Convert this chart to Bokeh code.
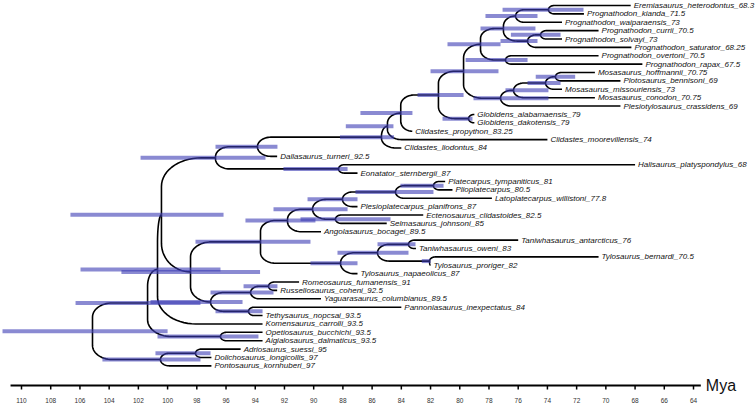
import numpy as np
from bokeh.plotting import figure
from bokeh.models import Range1d, ColumnDataSource
from bokeh.embed import file_html
from bokeh.resources import INLINE
from bokeh.core.properties import value

# ---------------- data ----------------
tip_names = [
    "Eremiasaurus_heterodontus_68.3", "Prognathodon_kianda_71.5", "Prognathodon_waiparaensis_73",
    "Prognathodon_currii_70.5", "Prognathodon_solvayi_73", "Prognathodon_saturator_68.25",
    "Prognathodon_overtoni_70.5", "Prognathodon_rapax_67.5", "Mosasaurus_hoffmannii_70.75",
    "Plotosaurus_bennisoni_69", "Mosasaurus_missouriensis_73", "Mosasaurus_conodon_70.75",
    "Plesiotylosaurus_crassidens_69", "Globidens_alabamaensis_79", "Globidens_dakotensis_79",
    "Clidastes_propython_83.25", "Clidastes_moorevillensis_74", "Clidastes_liodontus_84",
    "Dallasaurus_turneri_92.5", "Halisaurus_platyspondylus_68", "Eonatator_sternbergii_87",
    "Platecarpus_tympaniticus_81", "Plioplatecarpus_80.5", "Latoplatecarpus_willistoni_77.8",
    "Plesioplatecarpus_planifrons_87", "Ectenosaurus_clidastoides_82.5", "Selmasaurus_johnsoni_85",
    "Angolasaurus_bocagei_89.5", "Taniwhasaurus_antarcticus_76", "Taniwhasaurus_oweni_83",
    "Tylosaurus_bernardi_70.5", "Tylosaurus_proriger_82", "Tylosaurus_napaeolicus_87",
    "Romeosaurus_fumanensis_91", "Russellosaurus_coheni_92.5", "Yaguarasaurus_columbianus_89.5",
    "Pannoniasaurus_inexpectatus_84", "Tethysaurus_nopcsai_93.5", "Komensaurus_carrolli_93.5",
    "Opetiosaurus_bucchichi_93.5", "Aigialosaurus_dalmaticus_93.5", "Adriosaurus_suessi_95",
    "Dolichosaurus_longicollis_97", "Pontosaurus_kornhuberi_97",
]
tip_ages = [68.3, 71.5, 73, 70.5, 73, 68.25, 70.5, 67.5, 70.75, 69, 73, 70.75, 69, 79, 79,
            83.25, 74, 84, 92.5, 68, 87, 81, 80.5, 77.8, 87, 82.5, 85, 89.5, 76, 83, 70.5, 82, 87,
            91, 92.5, 89.5, 84, 93.5, 93.5, 93.5, 93.5, 95, 97, 97]

node_ids = ["A", "B", "C", "D", "E", "F", "G", "H", "I", "J", "K", "L", "M", "N",
            "P1", "P2", "P3", "Q", "S", "R",
            "PPa", "PPb", "PPc", "PPd", "PPe", "PPf",
            "TYa", "TYb", "TYc", "TYd", "RS1",
            "YGa", "YGb", "PT", "YGc", "RU", "T", "AA", "Z1", "Y", "X1", "X2", "Root"]
node_child1 = ["Eremiasaurus_heterodontus_68.3", "A", "Prognathodon_currii_70.5", "C", "B",
               "Prognathodon_overtoni_70.5", "E", "Mosasaurus_hoffmannii_70.75", "H", "I", "J", "G",
               "Globidens_alabamaensis_79", "L",
               "N", "P1", "P2", "P3", "Halisaurus_platyspondylus_68", "Q",
               "Platecarpus_tympaniticus_81", "PPa", "PPb", "Ectenosaurus_clidastoides_82.5", "PPc", "PPe",
               "Taniwhasaurus_antarcticus_76", "Tylosaurus_bernardi_70.5", "TYa", "TYc", "PPf",
               "Romeosaurus_fumanensis_91", "YGa", "Pannoniasaurus_inexpectatus_84", "YGb", "RS1", "R", "T",
               "Opetiosaurus_bucchichi_93.5", "AA", "Adriosaurus_suessi_95", "X1", "Y"]
node_child2 = ["Prognathodon_kianda_71.5", "Prognathodon_waiparaensis_73", "Prognathodon_solvayi_73",
               "Prognathodon_saturator_68.25", "D", "Prognathodon_rapax_67.5", "F",
               "Plotosaurus_bennisoni_69", "Mosasaurus_missouriensis_73", "Mosasaurus_conodon_70.75",
               "Plesiotylosaurus_crassidens_69", "K", "Globidens_dakotensis_79", "M",
               "Clidastes_propython_83.25", "Clidastes_moorevillensis_74", "Clidastes_liodontus_84",
               "Dallasaurus_turneri_92.5", "Eonatator_sternbergii_87", "S",
               "Plioplatecarpus_80.5", "Latoplatecarpus_willistoni_77.8", "Plesioplatecarpus_planifrons_87",
               "Selmasaurus_johnsoni_85", "PPd", "Angolasaurus_bocagei_89.5",
               "Taniwhasaurus_oweni_83", "Tylosaurus_proriger_82", "TYb", "Tylosaurus_napaeolicus_87", "TYd",
               "Russellosaurus_coheni_92.5", "Yaguarasaurus_columbianus_89.5", "Tethysaurus_nopcsai_93.5",
               "PT", "YGc", "RU", "Komensaurus_carrolli_93.5",
               "Aigialosaurus_dalmaticus_93.5", "Z1", "Dolichosaurus_longicollis_97", "Pontosaurus_kornhuberi_97",
               "X2"]
node_ages = [73.93, 76.18, 74.47, 75.36, 77.01, 76.87, 78.58, 73.45, 74.13, 76.32, 77.21, 79.74, 79.4, 81.46,
             84.04, 84.95, 85.36, 93.85, 88.30, 96.72,
             81.8, 84.4, 88.03, 88.51, 90.08, 91.79,
             83.51, 82.07, 85.63, 88.16, 93.64,
             93.09, 94.32, 94.46, 97.06, 98.43, 100.42, 100.69, 96.38, 101.37, 98.09, 100.49, 105.14]
hpd_young = [71.53, 74.68, 73.1, 74.68, 74.82, 75.36, 77.21, 72.1, 73.1, 73.93, 73.93, 77.35, 79.13, 79.74,
             83.24, 84.54, 84.5, 92.48, 87.68, 93.3,
             81.11, 81.8, 87.0, 84.74, 87.68, 89.88,
             83.03, 82.0, 83.51, 87.0, 90.22,
             92.48, 92.75, 93.5, 94.87, 93.67, 96.17, 96.38, 93.78, 97.75, 97.06, 97.75, 100.0]
hpd_old = [77.07, 78.24, 76.5, 77.21, 78.58, 79.6, 80.84, 74.8, 75.36, 76.87, 79.06, 82.0, 81.18, 82.89,
           86.8, 87.8, 88.2, 96.72, 92.07, 101.85,
           84.06, 87.14, 90.42, 90.9, 92.75, 94.67,
           85.63, 82.6, 88.37, 90.22, 98.09,
           94.8, 97.06, 96.72, 101.17, 103.16, 106.65, 105.96, 100.69, 106.3, 100.83, 104.46, 111.3]

axis_ticks = list(range(110, 63, -2))
axis_title = "Mya"

# ---------------- layout ----------------
W, H = 756, 405
X0, X1v = 111.4375, 59.688
Ytop, Ybot = -0.597, 47.733
SX = W / (X0 - X1v)
SY = H / (Ybot - Ytop)

age = {n: a for n, a in zip(tip_names, tip_ages)}
for n, a in zip(node_ids, node_ages):
    age[n] = a
kids = {n: (c1, c2) for n, c1, c2 in zip(node_ids, node_child1, node_child2)}
ypos = {n: float(i) for i, n in enumerate(tip_names)}

def gety(n):
    if n not in ypos:
        c1, c2 = kids[n]
        ypos[n] = (gety(c1) + gety(c2)) / 2.0
    return ypos[n]

for n in node_ids:
    gety(n)

xs, ys = [], []
t = np.linspace(0, np.pi / 2, 16)
for n in node_ids:
    for c in kids[n]:
        px, py = age[n], ypos[n]
        cx, cy = age[c], ypos[c]
        dy_px = (cy - py) * SY
        dx_px = (px - cx) * SX
        sgn = 1.0 if dy_px > 0 else -1.0
        ady = abs(dy_px)
        ry = min(ady, max(10.0, 0.5 * ady))
        rx = max(min(dx_px, 1.4 * ry), 0.0)
        ry_d = ry / SY
        rx_d = rx / SX
        ccx = px - rx_d
        ccy = cy - sgn * ry_d
        ex = ccx + rx_d * np.cos(t)
        ey = ccy + sgn * ry_d * np.sin(t)
        xs.append([px] + list(ex) + [cx])
        ys.append([py] + list(ey) + [cy])

p = figure(width=W, height=H, x_range=Range1d(X0, X1v), y_range=Range1d(Ybot, Ytop),
           toolbar_location=None, output_backend="svg", min_border=0)
p.axis.visible = False
p.grid.visible = False
p.outline_line_color = None
p.background_fill_color = "white"
p.border_fill_color = "white"

p.multi_line(xs, ys, line_color="black", line_width=1.6)

bars = ColumnDataSource(dict(x0=hpd_old, x1=hpd_young, y=[ypos[n] for n in node_ids]))
p.segment(x0="x0", y0="y", x1="x1", y1="y", source=bars, line_color="#3c3cb4",
          line_alpha=0.6, line_width=4, line_cap="butt")

labels = ColumnDataSource(dict(x=tip_ages, y=[ypos[n] for n in tip_names], t=tip_names))
p.text(x="x", y="y", text="t", source=labels, text_font=value("Liberation Sans"),
       text_font_style="italic", text_font_size="8px", text_baseline="middle",
       text_color="#111111", x_offset=3)

# time axis
axis_y = 45.35
p.segment(x0=[110.75], y0=[axis_y], x1=[63.5], y1=[axis_y], line_color="black", line_width=2)
p.segment(x0=axis_ticks, y0=[axis_y] * len(axis_ticks), x1=axis_ticks,
          y1=[axis_y + 4 / SY] * len(axis_ticks), line_color="black", line_width=1.5)
p.text(x=axis_ticks, y=[axis_y + 15 / SY] * len(axis_ticks), text=[str(v) for v in axis_ticks],
       text_font=value("Liberation Sans"), text_font_size="6.5px", text_align="center",
       text_baseline="middle", text_color="#333333")
p.text(x=[63.5], y=[axis_y], text=[axis_title], text_font=value("Liberation Sans"),
       text_font_size="16px", text_baseline="middle", text_color="#111111", x_offset=5)

open("out.html", "w").write(file_html(p, INLINE))
